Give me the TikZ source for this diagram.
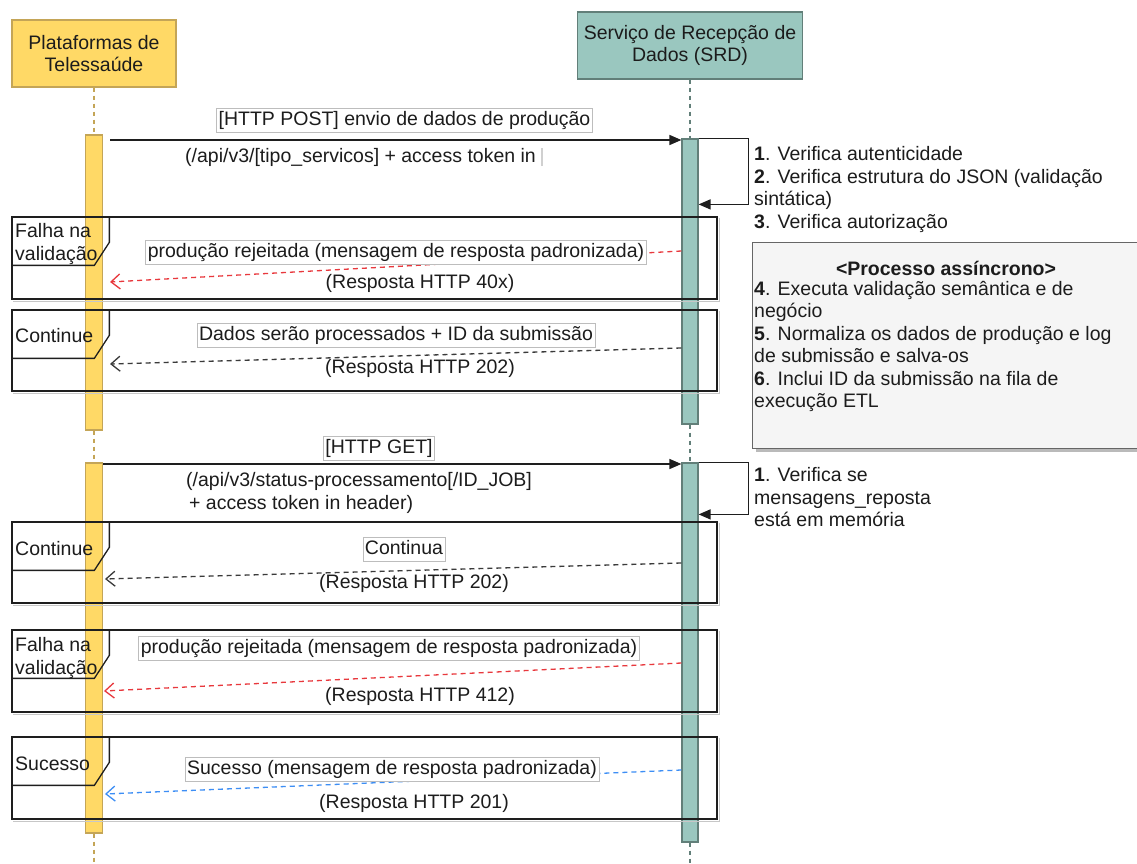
\documentclass[tikz,border=0pt]{standalone}
\usepackage{fontspec}
\setmainfont{Liberation Sans}
\usetikzlibrary{arrows.meta,calc,shadows}

\definecolor{plat}{HTML}{FFD966}
\definecolor{platline}{HTML}{C4A557}
\definecolor{srd}{HTML}{9AC7BF}
\definecolor{srdline}{HTML}{627F79}
\definecolor{notefill}{HTML}{F5F5F5}
\definecolor{noteline}{HTML}{666666}
\definecolor{failred}{HTML}{E8383D}
\definecolor{okblue}{HTML}{3D8EF5}
\definecolor{replygray}{HTML}{3A3A3A}
\definecolor{labelrule}{HTML}{BDBDBD}
\definecolor{framedark}{HTML}{1E1E1E}
\definecolor{txt}{HTML}{1C1C1C}
\definecolor{ghost}{HTML}{D0D0D0}

\begin{document}
\begin{tikzpicture}[x=1pt,y=-1pt,
  every node/.style={font=\fontsize{19.5pt}{22.5pt}\selectfont, text=txt},
  platbox/.style={draw=platline, fill=plat, line width=1.3pt, minimum width=164pt,
    minimum height=67pt, align=center, inner sep=0pt},
  srdbox/.style={draw=srdline, fill=srd, line width=1.3pt, minimum width=225pt,
    minimum height=67pt, align=center, inner sep=0pt},
  actA/.style={draw=platline, fill=plat, line width=1.2pt, minimum width=17pt, inner sep=0pt},
  actB/.style={draw=srdline, fill=srd, line width=1.2pt, minimum width=16pt, inner sep=0pt},
  lifeA/.style={draw=platline, line width=1.1pt, dash pattern=on 4pt off 4pt},
  lifeB/.style={draw=srdline, line width=1.1pt, dash pattern=on 4pt off 4pt},
  callarrow/.style={draw=framedark, line width=1.4pt, -{Triangle[length=12pt,width=10pt]}},
  replyarrow/.style={line width=1.3pt, dash pattern=on 5pt off 4pt,
    -{Straight Barb[length=9pt,width=15pt,line width=1.3pt]}},
  msglabel/.style={fill=white, draw=labelrule, line width=0.6pt, inner xsep=2pt,
    inner ysep=2.5pt, text height=14.5pt, text depth=4.5pt},
  plainlabel/.style={inner sep=0pt},
  fragbox/.style={draw=framedark, line width=1.3pt, inner sep=0pt, minimum width=705pt},
  fragstroke/.style={draw=framedark, line width=1.3pt},
  fragshadow/.style={draw=black!22, line width=1.3pt},
  notebox/.style={draw=noteline, fill=notefill, line width=1.3pt, inner sep=0pt,
    drop shadow={shadow xshift=3pt, shadow yshift=-3pt, opacity=0.45, fill=black!60}}
]
\useasboundingbox (0,0) rectangle (1137,864);
\clip (0,0) rectangle (1137,864);
\fill[white] (0,0) rectangle (1137,864);

% participants
\node[platbox] (pA) at (94,53.5) {Plataformas de\\Telessaúde};
\node[srdbox] (pB) at (690,45.5) {Serviço de Recepção de\\Dados (SRD)};

% activation bars
\node[actA, minimum height=295pt] (actA1) at (94,282.5) {};
\node[actA, minimum height=370pt] (actA2) at (94,648) {};
\node[actB, minimum height=285pt] (actB1) at (690,281.5) {};
\node[actB, minimum height=379pt] (actB2) at (690,652.5) {};

% lifelines
\coordinate (endA) at (94,866);
\coordinate (endB) at (690,866);
\draw[lifeA] (pA.south) -- (actA1.north);
\draw[lifeA] (actA1.south) -- (actA2.north);
\draw[lifeA] (actA2.south) -- (endA);
\draw[lifeB] (pB.south) -- (actB1.north);
\draw[lifeB] (actB1.south) -- (actB2.north);
\draw[lifeB] (actB2.south) -- (endB);

% asynchronous processing note
\node[notebox, anchor=north west, minimum width=390pt, minimum height=206pt] (note) at (752,242) {};
\node[plainlabel] (notetitle) at (946,268) {\textbf{<Processo assíncrono>}};
\node[plainlabel, anchor=west, align=left] (notetext) at (754,346.5)
  {\textbf{4}. Executa validação semântica e de\\negócio\\
   \textbf{5}. Normaliza os dados de produção e log\\de submissão e salva-os\\
   \textbf{6}. Inclui ID da submissão na fila de\\execução ETL};

% combined fragments
\node[fragbox, minimum height=82pt] (f1) at (364.5,258) {};
\node[fragbox, minimum height=81pt] (f2) at (364.5,350.5) {};
\node[fragbox, minimum height=81pt] (f3) at (364.5,562.5) {};
\node[fragbox, minimum height=82pt] (f4) at (364.5,671) {};
\node[fragbox, minimum height=82pt] (f5) at (364.5,778) {};
\foreach \f in {f1,f2,f3,f4,f5}{
  \draw[fragshadow] ([shift={(2pt,-2pt)}]\f.south west) -- ([shift={(2pt,-2pt)}]\f.south east)
    -- ([shift={(2pt,-2pt)}]\f.north east);
  \draw[fragstroke] (\f.north west) rectangle (\f.south east);
  \draw[fragstroke] (\f.north west) ++(98,0) -- ++(0,26) -- ++(-15,23) -- ++(-83,0);
}
\node[plainlabel, anchor=west, align=left] (f1name) at (15,244) {Falha na\\validação};
\node[plainlabel, anchor=west] (f2name) at (15,336) {Continue};
\node[plainlabel, anchor=west] (f3name) at (15,549) {Continue};
\node[plainlabel, anchor=west, align=left] (f4name) at (15,658) {Falha na\\validação};
\node[plainlabel, anchor=west] (f5name) at (15,764) {Sucesso};

% POST request and validation loop
\coordinate (q1a) at (110,140);
\draw[callarrow] (q1a) -- (q1a -| actB1.west);
\node[msglabel] (q1top) at (404.5,120) {[HTTP POST] envio de dados de produção};
\node[plainlabel, anchor=west] (q1sub) at (185,157)
  {(/api/v3/[tipo\_servicos] + access token in \textcolor{ghost}{\rule[-0.2em]{1.6pt}{0.95em}}};
\draw[callarrow] (actB1.north east) -- ++(50,0) -- ++(0,66) -- ($(actB1.north east)+(0,66)$);
\node[plainlabel, anchor=west, align=left] (s1text) at (754,189.5)
  {\textbf{1}. Verifica autenticidade\\\textbf{2}. Verifica estrutura do JSON (validação\\
   sintática)\\\textbf{3}. Verifica autorização};

% replies to the POST request
\coordinate (r1a) at (actB1.west |- 0,251);
\coordinate (r1b) at (110,282);
\draw[replyarrow, draw=failred] (r1a) -- (r1b);
\node[msglabel] (r1lbl) at (396,252.5) {produção rejeitada (mensagem de resposta padronizada)};
\node[plainlabel] (r1code) at (420,283) {(Resposta HTTP 40x)};

\coordinate (r2a) at (actB1.west |- 0,348);
\coordinate (r2b) at (110,364);
\draw[replyarrow, draw=replygray] (r2a) -- (r2b);
\node[msglabel] (r2lbl) at (396,335.5) {Dados serão processados + ID da submissão};
\node[plainlabel] (r2code) at (420,368) {(Resposta HTTP 202)};

% GET request and memory check
\coordinate (q2a) at (actA2.east |- 0,464);
\draw[callarrow] (q2a) -- (q2a -| actB2.west);
\node[msglabel] (q2top) at (379,448) {[HTTP GET]};
\node[plainlabel, anchor=west, align=left] (q2sub) at (186,493)
  {(/api/v3/status-processamento[/ID\_JOB]\\\hspace*{3pt}+ access token in header)};
\draw[callarrow] (actB2.north east) -- ++(50,0) -- ++(0,52) -- ($(actB2.north east)+(0,52)$);
\node[plainlabel, anchor=west, align=left] (s2text) at (754,497.5)
  {\textbf{1}. Verifica se\\mensagens\_reposta\\está em memória};

% replies to the GET request
\coordinate (r3a) at (actB2.west |- 0,563);
\coordinate (r3b) at (105,579);
\draw[replyarrow, draw=replygray] (r3a) -- (r3b);
\node[msglabel] (r3lbl) at (404,549) {Continua};
\node[plainlabel] (r3code) at (414,583) {(Resposta HTTP 202)};

\coordinate (r4a) at (actB2.west |- 0,663);
\coordinate (r4b) at (104,691);
\draw[replyarrow, draw=failred] (r4a) -- (r4b);
\node[msglabel] (r4lbl) at (389,648.5) {produção rejeitada (mensagem de resposta padronizada)};
\node[plainlabel] (r4code) at (420,696) {(Resposta HTTP 412)};

\coordinate (r5a) at (actB2.west |- 0,770);
\coordinate (r5b) at (105,794);
\draw[replyarrow, draw=okblue] (r5a) -- (r5b);
\node[msglabel] (r5lbl) at (392,769) {Sucesso (mensagem de resposta padronizada)};
\node[plainlabel] (r5code) at (414,803) {(Resposta HTTP 201)};
\end{tikzpicture}
\end{document}
